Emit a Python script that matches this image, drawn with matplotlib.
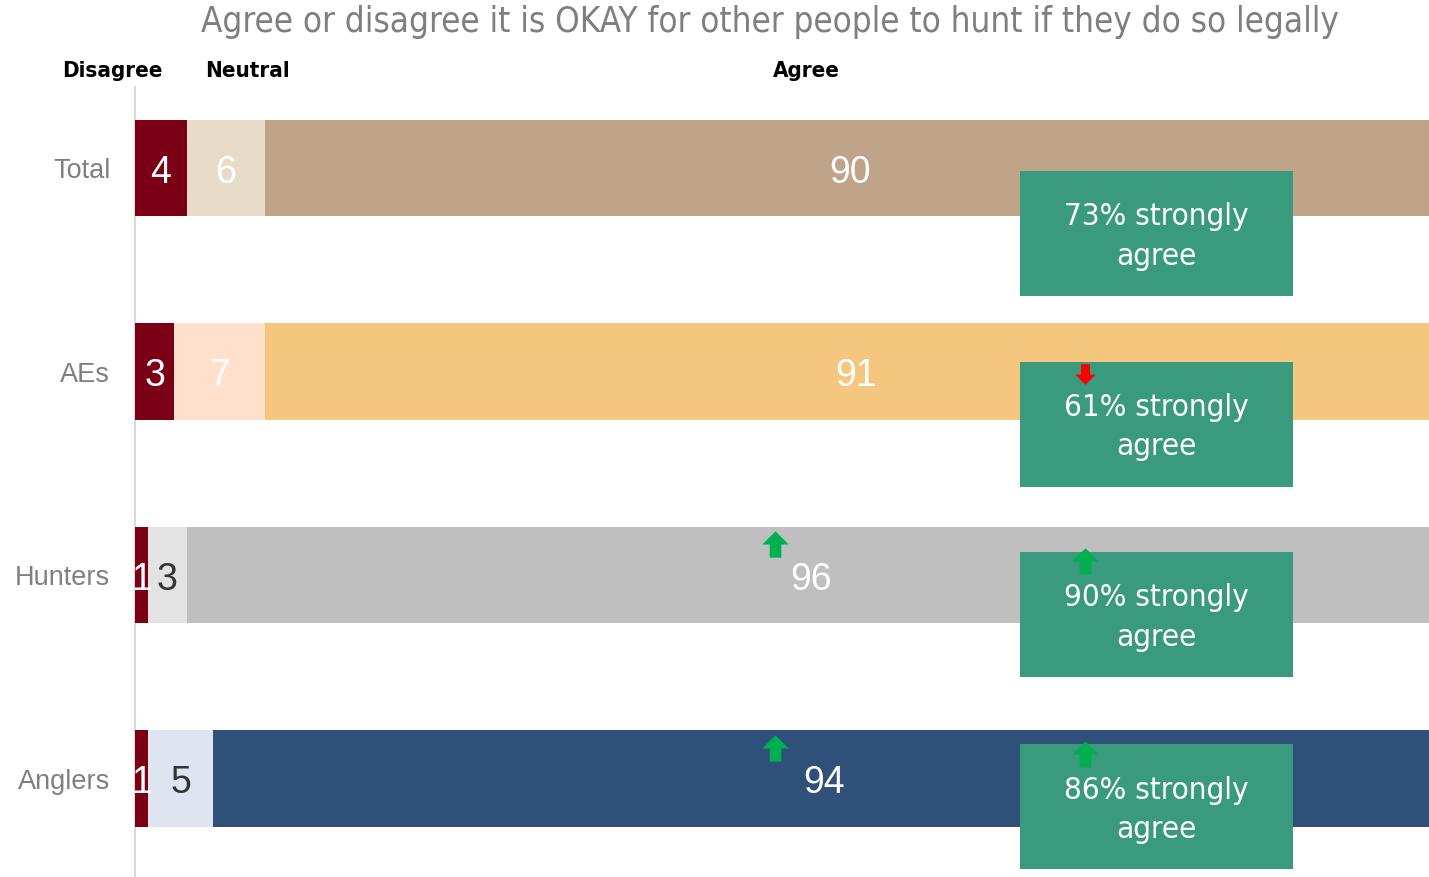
import numpy as np
import matplotlib
matplotlib.use("Agg")
import matplotlib.pyplot as plt
from matplotlib.path import Path
from matplotlib.patches import Rectangle

# data
groups = ['Total', 'AEs', 'Hunters', 'Anglers']
disagree = [4, 3, 1, 1]
neutral = [6, 7, 3, 5]
agree = [90, 91, 96, 94]
strongly = [73, 61, 90, 86]

# colours per group
dis_colors = ['#7B0016', '#7B0016', '#7B0016', '#7B0016']
neu_colors = ['#E8DCC8', '#FFE0CD', '#E3E3E3', '#DEE5F0']
agr_colors = ['#C0A48A', '#F4C67E', '#BFBFBF', '#2F5078']
neu_text = ['white', 'white', '#333333', '#333333']

# trend arrows
arrows_x = [73.1, 49.2, 73.1, 49.2, 73.1]
arrows_y = [1.01, 1.85, 1.93, 2.85, 2.88]
arrows_dir = ['down', 'up', 'up', 'up', 'up']

W, H = 1429, 878
fig = plt.figure(figsize=(W / 100, H / 100), dpi=100)
fig.patch.set_facecolor('white')

regular = ['Liberation Sans', 'DejaVu Sans']
cond = dict(family=['DejaVu Sans'], fontstretch='condensed')

x0 = 135
unit = 13.0
top = 169 - 0.5 * 203.5
ax = fig.add_axes([x0 / W, 0, 1 - x0 / W, (H - top) / H])
ax.set_xlim(0, (W - x0) / unit)
ax.set_ylim((H - 169) / 203.5, -0.5)
ax.axis('off')

# thin vertical baseline
fig.add_artist(plt.Line2D([x0 / W, x0 / W], [0, 1 - 88 / H], color='#D9D9D9', lw=1.5, zorder=0))

y = np.arange(len(groups))
bh = 0.472
d = np.array(disagree)
n = np.array(neutral)
a = np.array(agree)
ax.barh(y, d, height=bh, color=dis_colors, zorder=2)
ax.barh(y, n, left=d, height=bh, color=neu_colors, zorder=2)
ax.barh(y, a, left=d + n, height=bh, color=agr_colors, zorder=2)

ty = y + 0.018
for i in range(len(groups)):
    ax.text(-1.9, y[i] + 0.01, groups[i], ha='right', va='center', fontsize=19.5,
            color='#7F7F7F', family=regular, clip_on=False)
    ax.text(d[i] / 2, ty[i], str(d[i]), ha='center', va='center', fontsize=27,
            color='white', family=regular, zorder=4)
    ax.text(d[i] + n[i] / 2, ty[i], str(n[i]), ha='center', va='center', fontsize=27,
            color=neu_text[i], family=regular, zorder=4)
    ax.text(d[i] + n[i] + a[i] / 2, ty[i], str(a[i]), ha='center', va='center', fontsize=27,
            color='white', family=regular, zorder=4)

# green callout boxes
box_off = [0.322, 0.258, 0.194, 0.14]
bx0, bw, bhh = (1020 - x0) / unit, 273 / unit, 125 / 203.5
for i in range(len(groups)):
    cy = y[i] + box_off[i]
    ax.add_patch(Rectangle((bx0, cy - bhh / 2), bw, bhh, facecolor='#3A9A7E',
                           edgecolor='none', zorder=5))
    ax.text(bx0 + bw / 2, cy + 0.01, f'{strongly[i]}% strongly\nagree', ha='center',
            va='center', fontsize=22.5, color='white', zorder=6,
            linespacing=1.45, **cond)

# block arrow markers
up = Path([(-0.5, 0.0), (0.0, 0.5), (0.5, 0.0), (0.22, 0.0), (0.22, -0.5),
           (-0.22, -0.5), (-0.22, 0.0), (-0.5, 0.0)])
down = Path([(-0.5, 0.0), (0.0, -0.5), (0.5, 0.0), (0.22, 0.0), (0.22, 0.5),
             (-0.22, 0.5), (-0.22, 0.0), (-0.5, 0.0)])
for xx, yy, dd in zip(arrows_x, arrows_y, arrows_dir):
    if dd == 'up':
        ax.scatter([xx], [yy], marker=up, s=360, color='#00B050', linewidths=0, zorder=7)
    else:
        ax.scatter([xx], [yy], marker=down, s=220, color='#FF0000', linewidths=0, zorder=7)

# header labels
def ftxt(px, py, s, **kw):
    fig.text(px / W, 1 - py / H, s, **kw)

ftxt(770, 22, 'Agree or disagree it is OKAY for other people to hunt if they do so legally',
     ha='center', va='center', fontsize=25, color='#7F7F7F', **cond)
for px, s in [(112, 'Disagree'), (247, 'Neutral'), (806, 'Agree')]:
    ftxt(px, 71, s, ha='center', va='center', fontsize=16, color='black',
         fontweight='bold', **cond)

fig.savefig('out.png', dpi=100, facecolor='white')
